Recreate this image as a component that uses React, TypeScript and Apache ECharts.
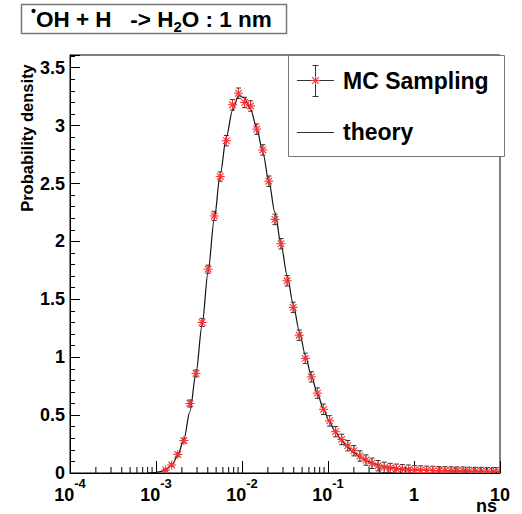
import React, { useEffect, useRef } from 'react';
import * as echarts from 'echarts';

// bin centres, log10(t / ns)
const binLogT = [
  -2.888, -2.817, -2.747, -2.676, -2.606, -2.535, -2.464, -2.394, -2.323, -2.253,
  -2.182, -2.111, -2.041, -1.970, -1.900, -1.829, -1.758, -1.688, -1.617, -1.547,
  -1.476, -1.405, -1.335, -1.264, -1.194, -1.123, -1.052, -0.982, -0.911, -0.841,
  -0.770, -0.699, -0.629, -0.558, -0.488, -0.417, -0.346, -0.276, -0.205, -0.135,
  -0.064, 0.007, 0.077, 0.148, 0.218, 0.289, 0.360, 0.430, 0.501, 0.571,
  0.642, 0.713, 0.783, 0.854, 0.924, 0.995,
];

// MC sampling histogram values
const mcValues = [
  0.026, 0.069, 0.16, 0.28, 0.60, 0.86, 1.30, 1.76, 2.22, 2.56,
  2.87, 3.18, 3.28, 3.20, 3.17, 2.97, 2.79, 2.52, 2.19, 1.98,
  1.66, 1.43, 1.19, 0.99, 0.83, 0.69, 0.55, 0.45, 0.357, 0.29,
  0.236, 0.193, 0.147, 0.112, 0.084, 0.063, 0.049, 0.043, 0.037, 0.033,
  0.029, 0.026, 0.024, 0.022, 0.021, 0.020, 0.019, 0.018, 0.017, 0.017,
  0.016, 0.015, 0.015, 0.014, 0.014, 0.013,
];

// MC statistical errors
const mcErrors = [
  0.008, 0.012, 0.015, 0.02, 0.03, 0.03, 0.035, 0.035, 0.04, 0.04,
  0.045, 0.045, 0.045, 0.045, 0.045, 0.045, 0.045, 0.045, 0.045, 0.045,
  0.045, 0.045, 0.045, 0.045, 0.045, 0.045, 0.045, 0.045, 0.045, 0.045,
  0.045, 0.045, 0.045, 0.045, 0.045, 0.045, 0.045, 0.04, 0.04, 0.04,
  0.04, 0.038, 0.038, 0.037, 0.037, 0.036, 0.036, 0.035, 0.035, 0.035,
  0.034, 0.034, 0.034, 0.033, 0.033, 0.033,
];

// theory curve, log10(t) and density
const theoryLogT = [-3.10, -3.02, -2.95, ...binLogT, 1.0];
const theoryValues = [
  0, 0.003, 0.012,
  0.028, 0.068, 0.15, 0.29, 0.53, 0.86, 1.28, 1.74, 2.19, 2.58,
  2.90, 3.13, 3.26, 3.24, 3.14, 2.98, 2.77, 2.52, 2.25, 1.98,
  1.71, 1.46, 1.23, 1.02, 0.84, 0.685, 0.55, 0.44, 0.35, 0.28,
  0.22, 0.175, 0.138, 0.108, 0.086, 0.069, 0.056, 0.047, 0.040, 0.035,
  0.031, 0.028, 0.025, 0.023, 0.021, 0.020, 0.019, 0.018, 0.017, 0.016,
  0.015, 0.015, 0.014, 0.013, 0.013, 0.012,
  0.012,
];

const xDecades = [1e-4, 1e-3, 1e-2, 1e-1, 1];
const xMinorMultipliers = [2, 3, 4, 5, 6, 7, 8, 9];

const yTickLabels = ['0', '0.5', '1', '1.5', '2', '2.5', '3', '3.5'];

const FONT = "'Liberation Sans', Arial, Helvetica, sans-serif";
const RED = '#ff3030';

export default function App() {
  const ref = useRef<HTMLDivElement>(null);

  useEffect(() => {
    if (!ref.current) return;
    const chart = echarts.init(ref.current, undefined, { renderer: 'svg' });

    const mcData = binLogT.map((u, i) => [Math.pow(10, u), mcValues[i], mcErrors[i]]);
    const theoryData = theoryLogT.map((u, i) => [Math.pow(10, u), theoryValues[i]]);
    const minorData: number[][] = [];
    xDecades.forEach((d) => xMinorMultipliers.forEach((m) => minorData.push([d * m, 0])));

    const xLabel = (val: number) => {
      const e = Math.round(Math.log10(val));
      if (e === 0) return '{b|1}';
      if (e === 1) return '{b|10}';
      return `{b|10}{s|${e}}`;
    };

    const option: any = {
      animation: false,
      backgroundColor: '#ffffff',
      grid: {
        left: 70, right: 22, top: 55, bottom: 41,
        show: true, borderColor: '#000', borderWidth: 1,
      },
      xAxis: {
        type: 'log', logBase: 10, min: 1e-4, max: 10,
        axisLine: { show: true, lineStyle: { color: '#000', width: 1 } },
        axisTick: { show: true, inside: true, length: 12, lineStyle: { color: '#000' } },
        splitLine: { show: false },
        axisLabel: {
          formatter: xLabel, margin: 4, color: '#000',
          rich: {
            b: { fontSize: 18, fontWeight: 'bold', fontFamily: FONT, color: '#000', lineHeight: 27, verticalAlign: 'bottom' },
            s: { fontSize: 13, fontWeight: 'bold', fontFamily: FONT, color: '#000', lineHeight: 13, verticalAlign: 'top' },
          },
        },
      },
      yAxis: {
        type: 'value', min: 0, max: 3.61, interval: 0.5,
        axisLine: { show: true, lineStyle: { color: '#000', width: 1 } },
        axisTick: { show: true, inside: true, length: 10, lineStyle: { color: '#000' } },
        minorTick: { show: true, splitNumber: 5, length: 5, lineStyle: { color: '#000' } },
        splitLine: { show: false },
        axisLabel: {
          showMaxLabel: false,
          margin: 5, fontSize: 18, fontWeight: 'bold', fontFamily: FONT, color: '#000',
          formatter: (v: number) => {
            const idx = Math.round(v / 0.5);
            return Math.abs(v - idx * 0.5) < 1e-6 && idx < yTickLabels.length ? yTickLabels[idx] : '';
          },
        },
      },
      series: [
        {
          type: 'custom', name: 'minorTicks', data: minorData, clip: false, silent: true,
          encode: { x: 0, y: 1 },
          renderItem: (_p: any, api: any) => {
            const p = api.coord([api.value(0), 0]);
            return { type: 'line', shape: { x1: p[0], y1: p[1], x2: p[0], y2: p[1] - 6 }, style: { stroke: '#000', lineWidth: 1 } };
          },
          z: 1,
        },
        {
          type: 'line', name: 'theory', data: theoryData, showSymbol: false,
          smooth: 0.3, smoothMonotone: 'x',
          lineStyle: { color: '#111', width: 1.2 }, z: 2,
        },
        {
          type: 'custom', name: 'errors', data: mcData, clip: true,
          encode: { x: 0, y: 1 },
          renderItem: (_p: any, api: any) => {
            const t = api.value(0), v = api.value(1), e = api.value(2);
            const hi = api.coord([t, v + e]);
            const lo = api.coord([t, v - e]);
            const c = 2.5;
            const st = { stroke: '#333', lineWidth: 1 };
            return {
              type: 'group',
              children: [
                { type: 'line', shape: { x1: hi[0], y1: hi[1], x2: lo[0], y2: lo[1] }, style: st },
                { type: 'line', shape: { x1: hi[0] - c, y1: hi[1], x2: hi[0] + c, y2: hi[1] }, style: st },
                { type: 'line', shape: { x1: lo[0] - c, y1: lo[1], x2: lo[0] + c, y2: lo[1] }, style: st },
              ],
            };
          },
          z: 3,
        },
        {
          type: 'custom', name: 'markers', data: mcData, clip: true,
          encode: { x: 0, y: 1 },
          renderItem: (_p: any, api: any) => {
            const p = api.coord([api.value(0), api.value(1)]);
            const s = 4.5, d = 3.3;
            const st = { stroke: RED, lineWidth: 1.1 };
            return {
              type: 'group',
              children: [
                { type: 'line', shape: { x1: p[0] - s, y1: p[1], x2: p[0] + s, y2: p[1] }, style: st },
                { type: 'line', shape: { x1: p[0], y1: p[1] - s, x2: p[0], y2: p[1] + s }, style: st },
                { type: 'line', shape: { x1: p[0] - d, y1: p[1] - d, x2: p[0] + d, y2: p[1] + d }, style: st },
                { type: 'line', shape: { x1: p[0] - d, y1: p[1] + d, x2: p[0] + d, y2: p[1] - d }, style: st },
              ],
            };
          },
          z: 4,
        },
      ],
      graphic: [
        // title box
        {
          type: 'rect', z: 100,
          shape: { x: 21.5, y: 4.5, width: 265, height: 29 },
          style: { fill: '#fff', stroke: '#777', lineWidth: 1.5 },
        },
        {
          type: 'text', z: 101, x: 31, y: 4,
          style: {
            text: '{sup|•}{n|OH + H   -> H}{sub|2}{n|O : 1 nm}',
            textAlign: 'left', textVerticalAlign: 'top',
            rich: {
              n: { fontSize: 22.5, fontWeight: 'bold', fontFamily: FONT, fill: '#000', lineHeight: 30, verticalAlign: 'middle' },
              sub: { fontSize: 15, fontWeight: 'bold', fontFamily: FONT, fill: '#000', lineHeight: 15, verticalAlign: 'bottom' },
              sup: { fontSize: 14, fontWeight: 'bold', fontFamily: FONT, fill: '#000', lineHeight: 16, verticalAlign: 'top' },
            },
          },
        },
        // legend box
        {
          type: 'rect', z: 100,
          shape: { x: 288.5, y: 55.5, width: 216, height: 101 },
          style: { fill: '#fff', stroke: '#777', lineWidth: 1 },
        },
        { type: 'line', z: 101, shape: { x1: 297, y1: 80.5, x2: 334, y2: 80.5 }, style: { stroke: '#333', lineWidth: 1 } },
        { type: 'line', z: 101, shape: { x1: 315.5, y1: 65.5, x2: 315.5, y2: 96.5 }, style: { stroke: '#333', lineWidth: 1 } },
        { type: 'line', z: 101, shape: { x1: 312.5, y1: 65.5, x2: 318.5, y2: 65.5 }, style: { stroke: '#333', lineWidth: 1 } },
        { type: 'line', z: 101, shape: { x1: 312.5, y1: 96.5, x2: 318.5, y2: 96.5 }, style: { stroke: '#333', lineWidth: 1 } },
        { type: 'line', z: 102, shape: { x1: 311, y1: 80.5, x2: 320, y2: 80.5 }, style: { stroke: RED, lineWidth: 1.1 } },
        { type: 'line', z: 102, shape: { x1: 315.5, y1: 76, x2: 315.5, y2: 85 }, style: { stroke: RED, lineWidth: 1.1 } },
        { type: 'line', z: 102, shape: { x1: 312.2, y1: 77.2, x2: 318.8, y2: 83.8 }, style: { stroke: RED, lineWidth: 1.1 } },
        { type: 'line', z: 102, shape: { x1: 312.2, y1: 83.8, x2: 318.8, y2: 77.2 }, style: { stroke: RED, lineWidth: 1.1 } },
        {
          type: 'text', z: 101, x: 343, y: 80.5,
          style: { text: 'MC Sampling', font: `bold 23px ${FONT}`, fill: '#000', textAlign: 'left', textVerticalAlign: 'middle' },
        },
        { type: 'line', z: 101, shape: { x1: 297, y1: 132.5, x2: 334, y2: 132.5 }, style: { stroke: '#333', lineWidth: 1 } },
        {
          type: 'text', z: 101, x: 343, y: 132,
          style: { text: 'theory', font: `bold 23px ${FONT}`, fill: '#000', textAlign: 'left', textVerticalAlign: 'middle' },
        },
        // axis titles
        {
          type: 'text', z: 101, x: 27, y: 138, rotation: Math.PI / 2,
          style: { text: 'Probability density', font: `bold 16.5px ${FONT}`, fill: '#000', textAlign: 'center', textVerticalAlign: 'middle' },
        },
        {
          type: 'text', z: 101, x: 497, y: 514.5,
          style: { text: 'ns', font: `bold 18px ${FONT}`, fill: '#000', textAlign: 'right', textVerticalAlign: 'bottom' },
        },
      ],
    };

    chart.setOption(option);
    return () => chart.dispose();
  }, []);

  return <div ref={ref} style={{ position: 'fixed', left: 0, top: 0, width: 522, height: 514 }} />;
}
